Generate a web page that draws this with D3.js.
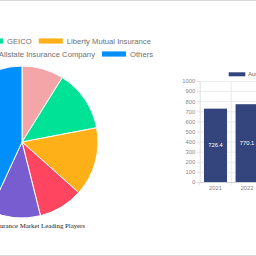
<!DOCTYPE html>
<html>
<head>
<meta charset="utf-8">
<script src="https://cdn.jsdelivr.net/npm/d3@7"></script>
<style>
  html, body { margin: 0; padding: 0; background: #fff; }
  svg { display: block; }
</style>
</head>
<body>
<svg id="chart" width="256" height="256"></svg>
<script>
// pie data (share %)
var players = ["State Farm", "GEICO", "Liberty Mutual Insurance", "Progressive", "Allstate Insurance Company", "Others"];
var shares = [8.9, 13.1, 14.6, 9.5, 10.8, 43.1];
var pieColors = ["#f4a5a8", "#00E396", "#FEB019", "#FF4560", "#775DD0", "#008FFB"];
var legendRows = [[0, 1, 2], [3, 4, 5]];

// bar data
var years = ["2021", "2022"];
var sizes = [726.4, 770.1];
var yTicks = [0, 100, 200, 300, 400, 500, 600, 700, 800, 900, 1000];
var barColor = "#34447c";

var svg = d3.select("#chart");
var sans = "'Liberation Sans', Arial, Helvetica, sans-serif";

svg.append("rect").attr("width", 256).attr("height", 256).attr("fill", "#fff");
// thin grey page borders
svg.append("line").attr("x1", 0).attr("x2", 256).attr("y1", 0.5).attr("y2", 0.5).attr("stroke", "#d6d6d6");
svg.append("line").attr("x1", 0).attr("x2", 256).attr("y1", 255.5).attr("y2", 255.5).attr("stroke", "#d6d6d6");

// ---- pie ----
var cx = 22, cy = 142, r = 76;
var pie = d3.pie().sort(null).value(function(d) { return d; });
var arc = d3.arc().innerRadius(0).outerRadius(r);
svg.append("g")
  .attr("transform", "translate(" + cx + "," + cy + ")")
  .selectAll("path")
  .data(pie(shares))
  .join("path")
  .attr("d", arc)
  .attr("fill", function(d, i) { return pieColors[i]; })
  .attr("stroke", "#fff")
  .attr("stroke-width", 1);

// legend, flowed per row then shifted so the anchor item sits where it should
var legFont = 7.7;
var rowY = [41, 54];
var rowAnchor = [{idx: 1, x: -21}, {idx: 2, x: 102}];
legendRows.forEach(function(row, ri) {
  var g = svg.append("g");
  var items = row.map(function(pi) {
    var t = g.append("text")
      .attr("font-family", sans)
      .attr("font-size", legFont)
      .attr("fill", "#707070")
      .attr("dy", "0.35em")
      .text(players[pi]);
    return {pi: pi, t: t, w: t.node().getComputedTextLength()};
  });
  var cum = 0;
  items.forEach(function(it) { it.x0 = cum; cum += 24 + 4 + it.w + 7; });
  var shift = rowAnchor[ri].x - items[rowAnchor[ri].idx].x0;
  items.forEach(function(it) {
    var x = it.x0 + shift;
    g.append("rect")
      .attr("x", x).attr("y", rowY[ri] - 2.6)
      .attr("width", 24).attr("height", 5.2)
      .attr("fill", pieColors[it.pi]);
    it.t.attr("x", x + 28).attr("y", rowY[ri]);
  });
});

svg.append("text")
  .attr("x", 85).attr("y", 228)
  .attr("text-anchor", "end")
  .attr("font-family", "'Liberation Serif', 'Times New Roman', serif")
  .attr("font-size", 6.8)
  .attr("fill", "#222")
  .text("Auto Insurance Market Leading Players");

// ---- bar chart ----
var x0 = 199.7, step = 31.6;
var x = d3.scaleBand().domain(years).range([x0, x0 + step * years.length]).padding(0);
var y = d3.scaleLinear().domain([0, 1000]).range([182, 81]);

// grid
var grid = svg.append("g").attr("transform", "translate(" + x0 + ",0)")
  .call(d3.axisLeft(y).tickValues(yTicks).tickSize(-80).tickFormat(""));
grid.select(".domain").remove();
grid.selectAll("line").attr("stroke", "#ececec");

years.forEach(function(yr) {
  svg.append("line")
    .attr("x1", x(yr) + x.bandwidth()).attr("x2", x(yr) + x.bandwidth())
    .attr("y1", 81).attr("y2", 185)
    .attr("stroke", "#ececec");
});

var yAxis = svg.append("g").attr("transform", "translate(" + x0 + ",0)")
  .call(d3.axisLeft(y).tickValues(yTicks).tickSize(3).tickPadding(1.5).tickFormat(d3.format("d")));
yAxis.select(".domain").attr("stroke", "#e0e0e0");
yAxis.selectAll("line").attr("stroke", "#e0e0e0");
yAxis.selectAll("text").attr("font-family", sans).attr("font-size", 5.8).attr("fill", "#888");

var xAxis = svg.append("g").attr("transform", "translate(0,182)")
  .call(d3.axisBottom(x).tickSize(0).tickPadding(4));
xAxis.select(".domain").attr("stroke", "#d0d0d0");
xAxis.selectAll("text").attr("font-family", sans).attr("font-size", 5.8).attr("fill", "#888");
svg.append("line").attr("x1", x0).attr("x2", x0).attr("y1", 182).attr("y2", 185).attr("stroke", "#e0e0e0");

var bw = x.bandwidth() * 0.73;
svg.append("g").selectAll("rect")
  .data(sizes)
  .join("rect")
  .attr("x", function(d, i) { return x(years[i]) + (x.bandwidth() - bw) / 2; })
  .attr("y", function(d) { return y(d); })
  .attr("width", bw)
  .attr("height", function(d) { return y(0) - y(d); })
  .attr("fill", barColor);

svg.append("g").selectAll("text")
  .data(sizes)
  .join("text")
  .attr("x", function(d, i) { return x(years[i]) + x.bandwidth() / 2; })
  .attr("y", function(d) { return (y(d) + y(0)) / 2; })
  .attr("dy", "0.35em")
  .attr("text-anchor", "middle")
  .attr("font-family", sans)
  .attr("font-size", 5.8)
  .attr("fill", "#fff")
  .text(function(d) { return d.toFixed(1); });

// bar legend
svg.append("rect").attr("x", 228.7).attr("y", 72.3).attr("width", 16.6).attr("height", 4).attr("fill", barColor);
svg.append("text")
  .attr("x", 248).attr("y", 74.3).attr("dy", "0.35em")
  .attr("font-family", sans).attr("font-size", 6).attr("fill", "#666")
  .text("Automotive Insurance Market Size");
</script>
</body>
</html>
